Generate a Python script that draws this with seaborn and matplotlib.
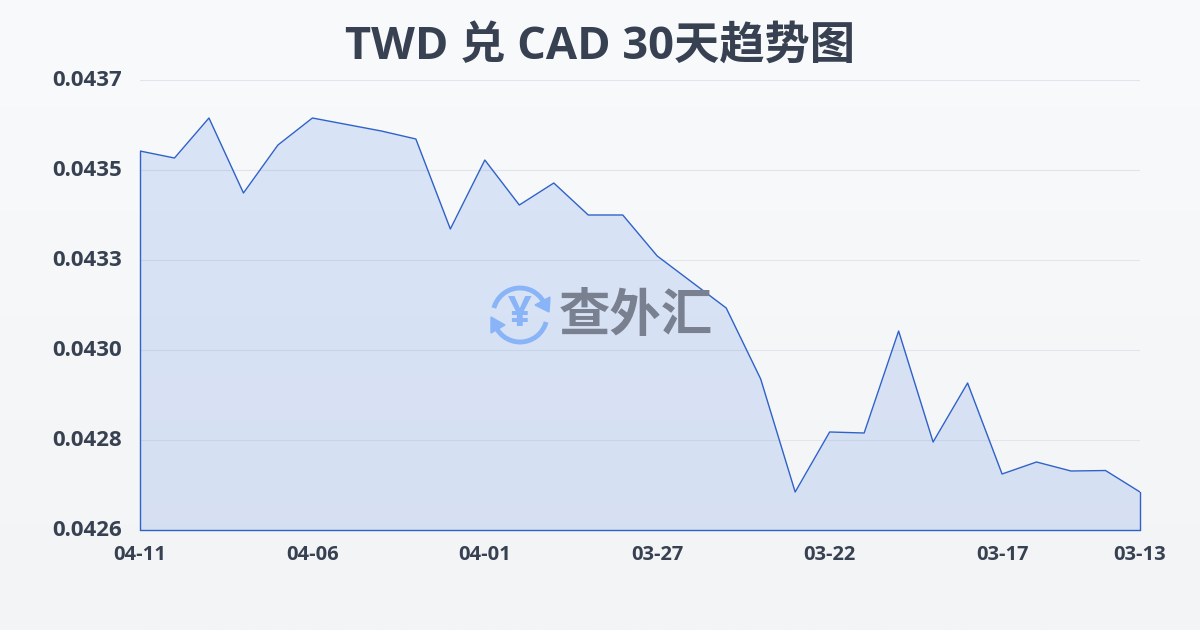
import matplotlib.pyplot as plt
from matplotlib.colors import LinearSegmentedColormap
from matplotlib.patches import Arc, Polygon
from matplotlib.transforms import ScaledTranslation
import numpy as np
import seaborn as sns

dates = ["04-11", "04-10", "04-09", "04-08", "04-07", "04-06", "04-05", "04-04", "04-03", "04-02",
         "04-01", "03-31", "03-30", "03-29", "03-28", "03-27", "03-26", "03-25", "03-24", "03-23",
         "03-22", "03-21", "03-20", "03-19", "03-18", "03-17", "03-16", "03-15", "03-14", "03-13"]
rates = [0.0435264, 0.0435093, 0.0436071, 0.0434238, 0.0435411, 0.0436071, 0.0435912, 0.0435753,
         0.0435558, 0.0433358, 0.0435044, 0.0433944, 0.0434482, 0.0433700, 0.0433700, 0.0432698,
         0.0432062, 0.0431427, 0.0429691, 0.0426929, 0.0428396, 0.0428371, 0.0430864, 0.0428151,
         0.0429593, 0.0427369, 0.0427662, 0.0427442, 0.0427454, 0.0426929]
y_ticks = [0.0426, 0.04282, 0.04304, 0.04326, 0.04348, 0.0437]
x_tick_labels = ["04-11", "04-06", "04-01", "03-27", "03-22", "03-17", "03-13"]

sns.set_style("white")
FONTES = ["Open Sans", "Noto Sans CJK SC", "DejaVu Sans"]
plt.rcParams["font.family"] = FONTES

LINHA = "#2f62c9"
TEXTO = "#374151"

fig = plt.figure(figsize=(12, 6.3), dpi=100)

# fundo em degrade
bg = fig.add_axes([0, 0, 1, 1], zorder=0)
bg.imshow(np.linspace(0, 1, 256).reshape(-1, 1), aspect="auto", extent=[0, 1, 0, 1],
          cmap=LinearSegmentedColormap.from_list("bg", ["#f9fafb", "#f3f4f6"]))
bg.axis("off")

ax = fig.add_axes([140 / 1200, 1 - 530 / 630, 1000 / 1200, 450 / 630], zorder=1)
ax.patch.set_alpha(0)

ax.grid(axis="y", color="#e2e5eb", linewidth=0.8)
ax.set_axisbelow(True)

ultimo = len(dates) - 1
sns.lineplot(x=dates, y=rates, sort=False, color=LINHA, linewidth=1.0, ax=ax, zorder=3)
ax.fill_between(range(len(dates)), rates, y_ticks[0], color="#3b76e1", alpha=0.16, linewidth=0, zorder=2)
ax.plot([0, 0], [rates[0], y_ticks[0]], color=LINHA, linewidth=1.0, zorder=3, clip_on=False)
ax.plot([ultimo, ultimo], [rates[-1], y_ticks[0]], color=LINHA, linewidth=1.0, zorder=3, clip_on=False)
ax.plot([0, ultimo], [y_ticks[0], y_ticks[0]], color=LINHA, linewidth=1.0, zorder=3, clip_on=False)

ax.set_xlim(0, ultimo)
ax.set_ylim(y_ticks[0], y_ticks[-1])
ax.set_yticks(y_ticks)
ax.set_yticklabels([f"{v:.4f}" for v in y_ticks], fontsize=16, fontweight="bold", color=TEXTO)
ax.set_xticks([dates.index(d) for d in x_tick_labels])
ax.set_xticklabels(x_tick_labels, fontsize=14.5, fontweight="bold", color=TEXTO)
ax.tick_params(axis="y", length=0, pad=13)
ax.tick_params(axis="x", length=5, width=0.8, color="#e2e5eb", pad=6)
sns.despine(ax=ax, left=True, right=True, top=True, bottom=True)

# rotulos do eixo y um pouco acima da grade
for lbl in ax.get_yticklabels():
    lbl.set_transform(lbl.get_transform() + ScaledTranslation(0, 2 / 100, fig.dpi_scale_trans))

fig.text(0.5, 1 - 48 / 630, "TWD 兑 CAD 30天趋势图", ha="center", va="center", fontsize=32.6,
         fontweight="bold", color=TEXTO)

# marca d'agua
logo = fig.add_axes([485 / 1200, 1 - 350 / 630, 70 / 1200, 70 / 630], zorder=4)
logo.set_xlim(-35, 35)
logo.set_ylim(-35, 35)
logo.axis("off")
AZUL = "#8ab4f8"
logo.add_patch(Arc((0, 0), 54, 54, theta1=30, theta2=165, color=AZUL, linewidth=3.5))
logo.add_patch(Arc((0, 0), 54, 54, theta1=195, theta2=345, color=AZUL, linewidth=3.5))
logo.add_patch(Polygon([[30, 18], [29, 3], [15, 10]], color=AZUL))
logo.add_patch(Polygon([[-29, -2], [-29, -18], [-15, -10]], color=AZUL))
logo.text(0, 0, "¥", ha="center", va="center", fontsize=30, fontweight="bold", color=AZUL)

fig.text(636 / 1200, 1 - 316 / 630, "查外汇", ha="center", va="center", fontsize=37, fontweight="bold",
         color="#79808f", zorder=5, family=["Noto Sans CJK SC", "DejaVu Sans"])

fig.savefig("out.png", dpi=100)
